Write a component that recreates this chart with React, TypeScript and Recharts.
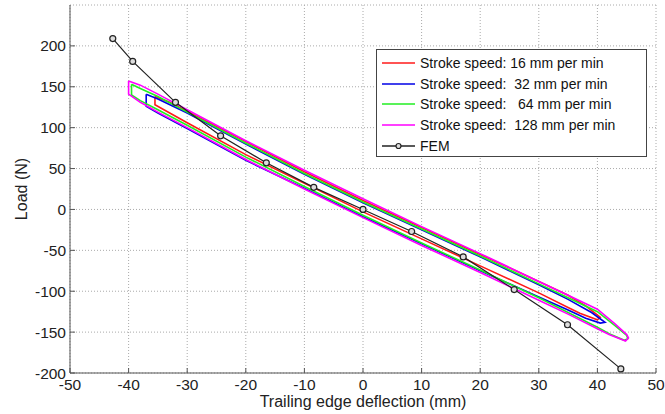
import React from 'react';
import { LineChart, Line, XAxis, YAxis, CartesianGrid, Legend, Label } from 'recharts';

type Pt = [number, number];

const xTicks = [-50, -40, -30, -20, -10, 0, 10, 20, 30, 40, 50];
const yTicks = [-200, -150, -100, -50, 0, 50, 100, 150, 200];

// hysteresis loops: upper branch left -> right, lower branch back
const loop16: Pt[] = [
  [-35.5, 138], [-33, 131], [-30, 120], [-20, 83], [-10, 46], [0, 11], [10, -22], [20, -55],
  [30, -88], [35, -105], [38, -118], [40.5, -132],
  [40, -135], [37, -127], [35, -120], [30, -102], [20, -69], [10, -36], [0, -3], [-10, 32],
  [-20, 67], [-30, 106], [-35.5, 128], [-35.5, 138],
];
const loop32: Pt[] = [
  [-37, 141], [-35, 135], [-30, 118], [-20, 80], [-10, 43], [0, 8], [10, -25], [20, -58],
  [30, -92], [35, -110], [39, -126], [41.3, -138],
  [40.5, -139], [38, -133], [35, -123], [30, -107], [20, -75], [10, -42], [0, -9], [-10, 26],
  [-20, 60], [-30, 99], [-35, 118], [-37, 126], [-37, 141],
];
const loop64: Pt[] = [
  [-39.5, 153], [-38, 148], [-35, 138], [-30, 119], [-20, 81], [-10, 44], [0, 9], [10, -24],
  [20, -57], [30, -91], [35, -108], [40, -125], [43, -142], [45, -154], [45.2, -158],
  [44.6, -160], [42, -152], [40, -144], [35, -126], [30, -108], [20, -74], [10, -41], [0, -7],
  [-10, 28], [-20, 64], [-30, 103], [-35, 122], [-38, 133], [-39.5, 140], [-39.5, 153],
];
const loop128: Pt[] = [
  [-40, 157], [-38, 152], [-35, 141], [-30, 122], [-20, 84], [-10, 48], [0, 13], [10, -21],
  [20, -54], [30, -88], [35, -105], [40, -122], [43, -140], [45, -153], [45.3, -157],
  [44.8, -161], [42, -153], [40, -146], [35, -128], [30, -111], [20, -77], [10, -44], [0, -10],
  [-10, 25], [-20, 61], [-30, 100], [-35, 119], [-38, 131], [-40, 141], [-40, 157],
];
const fem: Pt[] = [
  [-42.7, 209], [-39.3, 181], [-32, 131], [-24.3, 90], [-16.5, 57], [-8.4, 27], [0, 0],
  [8.3, -27], [17.1, -58], [25.8, -98], [34.9, -141], [44, -195],
];

const seriesNames = [
  'Stroke speed: 16 mm per min',
  'Stroke speed:  32 mm per min',
  'Stroke speed:   64 mm per min',
  'Stroke speed:  128 mm per min',
  'FEM',
];
const seriesColors = ['#ff1a1a', '#0000e6', '#22ee22', '#ff00ff', '#222222'];

const series = [loop16, loop32, loop64, loop128, fem].map((pts, i) => ({
  name: seriesNames[i],
  color: seriesColors[i],
  data: pts.map(([x, y]) => ({ x, y })),
  markers: i === 4,
}));

const font = '"Liberation Sans", Arial, sans-serif';
const axisColor = '#555';

const BottomTick = (p: any) => (
  <g>
    <line x1={p.x} x2={p.x} y1={p.y} y2={p.y - 5} stroke={axisColor} />
    <text x={p.x} y={p.y + 6} dy="0.71em" textAnchor="middle" fontSize={15.5} fontFamily={font} fill="#222">
      {p.payload.value}
    </text>
  </g>
);
const TopTick = (p: any) => <line x1={p.x} x2={p.x} y1={p.y} y2={p.y + 5} stroke={axisColor} />;
const LeftTick = (p: any) => (
  <g>
    <line x1={p.x} x2={p.x + 5} y1={p.y} y2={p.y} stroke={axisColor} />
    <text x={p.x - 4} y={p.y} dy="0.355em" textAnchor="end" fontSize={15.5} fontFamily={font} fill="#222">
      {p.payload.value}
    </text>
  </g>
);
const RightTick = (p: any) => <line x1={p.x} x2={p.x - 5} y1={p.y} y2={p.y} stroke={axisColor} />;

const LegendBox = () => (
  <div
    style={{
      border: '1px solid #444',
      background: '#fff',
      boxSizing: 'border-box',
      width: 271,
      height: 108,
      padding: '3px 0 0 5px',
      fontFamily: font,
      fontSize: 14,
      color: '#111',
    }}
  >
    {series.map((s) => (
      <div key={s.name} style={{ display: 'flex', alignItems: 'center', height: 20.6 }}>
        <svg width={33} height={10}>
          <line x1={0} x2={33} y1={5} y2={5} stroke={s.color} strokeWidth={1.5} />
          {s.markers && <circle cx={16.5} cy={5} r={2.5} stroke={s.color} fill="#ddd" strokeWidth={1.2} />}
        </svg>
        <span style={{ marginLeft: 5, whiteSpace: 'pre' }}>{s.name}</span>
      </div>
    ))}
  </div>
);

export default function App() {
  return (
    <div style={{ position: 'absolute', left: 0, top: 0, background: '#fff' }}>
      <LineChart width={665} height={414} margin={{ top: 5, right: 9, left: 10, bottom: 0 }}>
        <CartesianGrid stroke="#aaaaaa" strokeDasharray="1 2" />
        <XAxis
          dataKey="x"
          type="number"
          domain={[-50, 50]}
          ticks={xTicks}
          allowDataOverflow
          height={41}
          tickSize={0}
          tickMargin={0}
          tickLine={false}
          stroke={axisColor}
          tick={BottomTick}
        >
          <Label
            content={(props: any) => (
              <text
                x={props.viewBox.x + props.viewBox.width / 2}
                y={props.viewBox.y + 34}
                textAnchor="middle"
                fontSize={16}
                fontFamily={font}
                fill="#222"
              >
                Trailing edge deflection (mm)
              </text>
            )}
          />
        </XAxis>
        <XAxis
          xAxisId="top"
          orientation="top"
          dataKey="x"
          type="number"
          domain={[-50, 50]}
          ticks={xTicks}
          allowDataOverflow
          height={0}
          tickSize={0}
          tickMargin={0}
          tickLine={false}
          stroke={axisColor}
          tick={TopTick}
        />
        <YAxis
          type="number"
          domain={[-200, 250]}
          ticks={yTicks}
          allowDataOverflow
          width={60}
          tickSize={0}
          tickMargin={0}
          tickLine={false}
          stroke={axisColor}
          tick={LeftTick}
        >
          <Label
            content={(props: any) => {
              const cx = props.viewBox.x + 16.5;
              const cy = props.viewBox.y + props.viewBox.height / 2;
              return (
                <text
                  x={cx}
                  y={cy}
                  transform={`rotate(-90 ${cx} ${cy})`}
                  textAnchor="middle"
                  fontSize={16}
                  fontFamily={font}
                  fill="#222"
                >
                  Load (N)
                </text>
              );
            }}
          />
        </YAxis>
        <YAxis
          yAxisId="right"
          orientation="right"
          type="number"
          domain={[-200, 250]}
          ticks={yTicks}
          allowDataOverflow
          width={0}
          tickSize={0}
          tickMargin={0}
          tickLine={false}
          stroke={axisColor}
          tick={RightTick}
        />
        <Legend
          layout="vertical"
          align="center"
          verticalAlign="middle"
          content={LegendBox}
          wrapperStyle={{ left: 376, top: 49, width: 271, height: 108 }}
        />
        {series.map((s) => (
          <Line
            key={s.name}
            data={s.data}
            dataKey="y"
            name={s.name}
            type="linear"
            stroke={s.color}
            strokeWidth={s.markers ? 1.2 : 1.6}
            dot={s.markers ? { r: 3, stroke: s.color, strokeWidth: 1.2, fill: '#ddd' } : false}
            activeDot={false}
            isAnimationActive={false}
          />
        ))}
      </LineChart>
    </div>
  );
}
